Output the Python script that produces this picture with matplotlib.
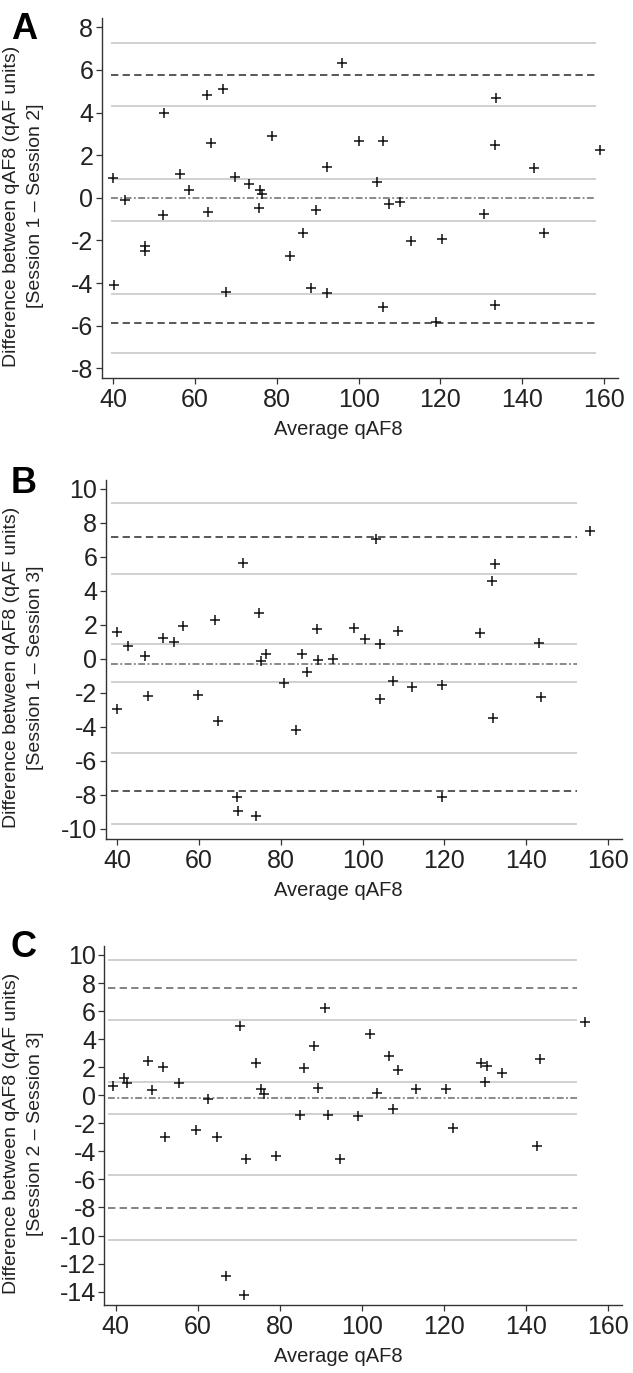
import matplotlib
matplotlib.use("Agg")
import matplotlib.pyplot as plt

plt.rcParams['font.family'] = ['Liberation Sans', 'DejaVu Sans']

# ---------------- data ----------------
a_avg = [40.0, 43.0, 52.4, 52.15, 47.75, 47.75, 40.25, 56.3, 58.6, 63.0, 66.8, 63.8, 63.1, 69.75,
         73.2, 76.0, 76.5, 75.55, 78.8, 67.5, 83.3, 96.0, 92.25, 100.15, 105.9, 104.6, 107.4, 110.0,
         89.7, 86.45, 112.9, 120.4, 88.3, 92.2, 106.0, 119.0, 133.6, 133.3, 130.7, 133.3, 142.9,
         158.9, 145.2]
a_diff = [0.91, -0.08, 3.99, -0.80, -2.27, -2.50, -4.10, 1.11, 0.39, 4.82, 5.09, 2.55, -0.66, 0.99,
          0.63, 0.36, 0.17, -0.47, 2.91, -4.44, -2.71, 6.34, 1.44, 2.65, 2.65, 0.72, -0.30, -0.19,
          -0.56, -1.66, -2.03, -1.92, -4.25, -4.46, -5.10, -5.84, 4.67, 2.46, -0.75, -5.01, 1.38,
          2.24, -1.63]

b_avg = [39.85, 39.85, 42.7, 46.8, 47.6, 51.3, 54.0, 56.0, 59.8, 63.9, 64.55, 70.7, 74.65, 75.05,
         76.35, 80.75, 83.6, 69.3, 69.6, 73.85, 103.25, 132.35, 131.55, 88.75, 97.8, 100.5, 104.2,
         108.6, 128.75, 85.25, 89.15, 92.65, 86.3, 107.4, 112.0, 119.5, 104.2, 131.8, 119.5, 155.7,
         143.0, 143.5]
b_diff = [1.54, -2.97, 0.72, 0.17, -2.21, 1.21, 0.95, 1.91, -2.11, 2.26, -3.66, 5.6, 2.66, -0.11,
          0.26, -1.44, -4.17, -8.13, -8.97, -9.25, 7.03, 5.54, 4.56, 1.74, 1.79, 1.17, 0.87, 1.6,
          1.5, 0.25, -0.07, -0.03, -0.79, -1.32, -1.64, -1.52, -2.38, -3.48, -8.15, 7.5, 0.93, -2.28]

c_avg = [39.27, 41.9, 42.7, 47.75, 48.8, 51.5, 51.9, 55.4, 59.5, 62.5, 64.7, 70.2, 71.7, 74.3,
         75.4, 76.2, 79.1, 66.75, 71.3, 90.95, 88.25, 85.95, 89.3, 85.0, 91.85, 99.1, 94.6, 101.95,
         103.65, 106.7, 108.7, 107.5, 113.1, 120.45, 122.3, 129.1, 130.4, 130.0, 134.1, 143.5,
         154.45, 142.8]
c_diff = [0.64, 1.21, 0.85, 2.47, 0.36, 2.02, -3.0, 0.9, -2.47, -0.29, -3.0, 4.96, -4.52, 2.3,
          0.43, 0.11, -4.3, -12.9, -14.26, 6.2, 3.51, 1.92, 0.52, -1.43, -1.43, -1.45, -4.54, 4.37,
          0.16, 2.78, 1.78, -1.0, 0.43, 0.43, -2.31, 2.3, 2.11, 0.93, 1.57, 2.59, 5.22, -3.61]

# reference lines: grey (CI bounds), dashed (limits of agreement), dash-dot (mean)
a_grey = [7.25, 4.31, 0.89, -1.08, -4.52, -7.28]
a_loa = [5.76, -5.88]
a_mean = 0.0
b_grey = [9.16, 4.99, 0.85, -1.38, -5.52, -9.74]
b_loa = [7.17, -7.79]
b_mean = -0.30
c_grey = [9.64, 5.39, 0.97, -1.33, -5.66, -10.29]
c_loa = [7.65, -8.01]
c_mean = -0.19

letters = ['A', 'B', 'C']
sessions = ['[Session 1 \u2013 Session 2]', '[Session 1 \u2013 Session 3]', '[Session 2 \u2013 Session 3]']
xticks = [40, 60, 80, 100, 120, 140, 160]
yticks_list = [list(range(-8, 9, 2)), list(range(-10, 11, 2)), list(range(-14, 11, 2))]

# ---------------- layout ----------------
W, H = 633, 1373
fig = plt.figure(figsize=(W / 100, H / 100), dpi=100)

def rect(l, r, t, b):
    return [l / W, 1 - b / H, (r - l) / W, (b - t) / H]

panels = [
    dict(avg=a_avg, diff=a_diff, grey=a_grey, loa=a_loa, mean=a_mean,
         rect=rect(101.7, 618, 18.3, 378), ylim=(-8.45, 8.42), xspan=(39.4, 158.0),
         loacol='#2a2a2a', letter_base=39),
    dict(avg=b_avg, diff=b_diff, grey=b_grey, loa=b_loa, mean=b_mean,
         rect=rect(105.7, 622, 480, 839), ylim=(-10.6, 10.5), xspan=(38.5, 152.4),
         loacol='#2a2a2a', letter_base=493),
    dict(avg=c_avg, diff=c_diff, grey=c_grey, loa=c_loa, mean=c_mean,
         rect=rect(104.3, 622, 946, 1305), ylim=(-14.95, 10.64), xspan=(38.2, 152.4),
         loacol='#606060', letter_base=957),
]

for i, p in enumerate(panels):
    ax = fig.add_axes(p['rect'])
    x0, x1 = p['xspan']
    for g in p['grey']:
        ax.plot([x0, x1], [g, g], color='#c4c4c4', lw=1.1, solid_capstyle='butt', zorder=1)
    for l in p['loa']:
        ax.plot([x0, x1], [l, l], color=p['loacol'], lw=1.1, linestyle=(0, (4.8, 2.8)), zorder=2)
    ax.plot([x0, x1], [p['mean'], p['mean']], color='#6a6a6a', lw=1.1,
            linestyle=(0, (4.5, 1.6, 1.2, 1.6)), zorder=2)
    ax.plot(p['avg'], p['diff'], linestyle='none', marker='+', markersize=7.5,
            markeredgewidth=1.1, color='#111111', zorder=3)
    ax.set_xlim(37.2, 163.4)
    ax.set_ylim(*p['ylim'])
    ax.set_xticks(xticks)
    ax.set_yticks(yticks_list[i])
    ax.set_yticklabels([str(v) for v in yticks_list[i]])
    for s in ['top', 'right']:
        ax.spines[s].set_visible(False)
    for s in ['left', 'bottom']:
        ax.spines[s].set_color('#333333')
        ax.spines[s].set_linewidth(1.0)
    ax.tick_params(axis='y', direction='out', length=4, width=0.9, color='#333333',
                   labelsize=18, pad=2, labelcolor='#222222')
    ax.tick_params(axis='x', direction='out', length=4, width=0.9, color='#333333',
                   labelsize=18, pad=3, labelcolor='#222222')
    # labels
    l, b, w, h = p['rect']
    cy = b + h / 2 - 8 / H
    fig.text(12 / W, cy, 'Difference between qAF8 (qAF units)', rotation=90,
             ha='center', va='center', fontsize=14, color='#222222')
    fig.text(36 / W, cy, sessions[i], rotation=90, ha='center', va='center',
             fontsize=14, color='#222222')
    fig.text(338 / W, b - 52 / H, 'Average qAF8', ha='center', va='center',
             fontsize=14.5, color='#222222')
    fig.text(11 / W, 1 - p['letter_base'] / H, letters[i], ha='left', va='baseline',
             fontsize=26, fontweight='bold', color='black')

fig.savefig('out.png', dpi=100, facecolor='white')
